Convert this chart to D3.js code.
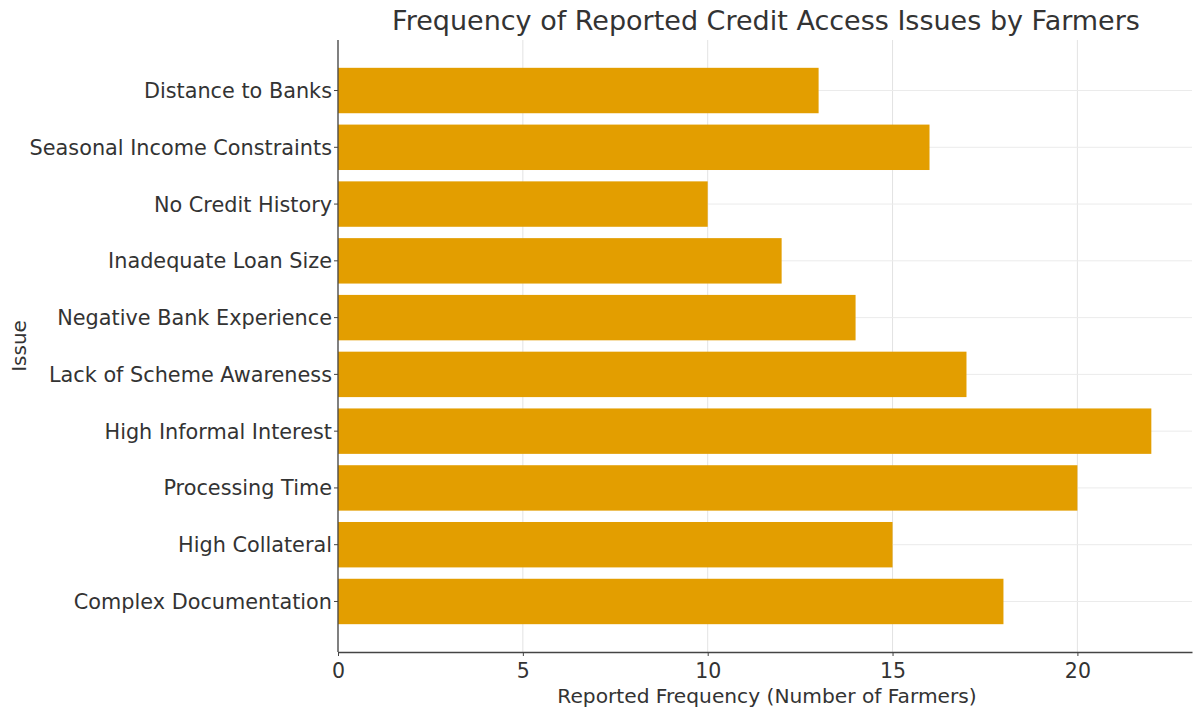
<!DOCTYPE html>
<html>
<head>
<meta charset="utf-8">
<script src="https://cdn.jsdelivr.net/npm/d3@7"></script>
<style>
body{margin:0;background:#fff;}
text{font-family:"DejaVu Sans",sans-serif;}
</style>
</head>
<body>
<script>
// categories top to bottom as drawn
var issues = ["Distance to Banks","Seasonal Income Constraints","No Credit History","Inadequate Loan Size","Negative Bank Experience","Lack of Scheme Awareness","High Informal Interest","Processing Time","High Collateral","Complex Documentation"]
var counts = [13,16,10,12,14,17,22,20,15,18]
var xTicks = [0,5,10,15,20]

var screen = {width:1193, height:711}
var margin = {top:40, right:1, bottom:59, left:338}

var svg = d3.select("body").append("svg")
  .attr("width", screen.width)
  .attr("height", screen.height)

var w = screen.width - margin.left - margin.right
var h = screen.height - margin.top - margin.bottom

var x = d3.scaleLinear().domain([0, d3.max(counts)*1.05]).range([0, w])

// matplotlib-style y margin: 5% of data range on each side
var n = issues.length
var span = (n - 1) + 0.8
var lo = -0.4 - 0.05*span, hi = (n-1) + 0.4 + 0.05*span
var yc = d3.scaleLinear().domain([lo, hi]).range([0, h])
var bh = yc(0.8) - yc(0)

var g = svg.append("g").attr("transform","translate("+margin.left+","+margin.top+")")

// grid
g.selectAll(".vgrid").data(xTicks).enter().append("line")
  .attr("x1", function(d){return x(d)}).attr("x2", function(d){return x(d)})
  .attr("y1", 0).attr("y2", h)
  .attr("stroke","#e3e3e3").attr("stroke-width",1)
g.selectAll(".hgrid").data(issues).enter().append("line")
  .attr("x1", 0).attr("x2", w)
  .attr("y1", function(d,i){return yc(i)}).attr("y2", function(d,i){return yc(i)})
  .attr("stroke","#ebebeb").attr("stroke-width",1)

g.selectAll("rect").data(counts).enter().append("rect")
  .attr("x", 0)
  .attr("y", function(d,i){return yc(i) - bh/2})
  .attr("width", function(d){return x(d)})
  .attr("height", bh)
  .attr("fill", "#e39e00")

// axes
var xAxis = g.append("g").attr("transform","translate(0,"+h+")")
  .call(d3.axisBottom(x).tickValues(xTicks).tickSize(4).tickSizeOuter(0))
xAxis.select(".domain").attr("stroke","#444").attr("stroke-width",1.3)
xAxis.selectAll(".tick line").attr("stroke","#444")
xAxis.selectAll("text").attr("font-size",20.5).attr("fill","#333").attr("y",26).attr("dy",0)

var yAxis = g.append("g")
yAxis.append("line").attr("x1",0).attr("x2",0).attr("y1",0).attr("y2",h)
  .attr("stroke","#444").attr("stroke-width",1.3)
yAxis.selectAll(".ytick").data(issues).enter().append("line")
  .attr("x1",-4).attr("x2",0)
  .attr("y1",function(d,i){return yc(i)}).attr("y2",function(d,i){return yc(i)})
  .attr("stroke","#444")
yAxis.selectAll(".ylab").data(issues).enter().append("text")
  .attr("x",-6)
  .attr("y",function(d,i){return yc(i)})
  .attr("dy","0.36em")
  .attr("text-anchor","end")
  .attr("font-size",20.8)
  .attr("fill","#333")
  .text(function(d){return d})

svg.append("text")
  .attr("x", 766).attr("y", 30)
  .attr("text-anchor","middle")
  .attr("font-size",27)
  .attr("fill","#333")
  .text("Frequency of Reported Credit Access Issues by Farmers")

svg.append("text")
  .attr("x", 767).attr("y", 703)
  .attr("text-anchor","middle")
  .attr("font-size",20.2)
  .attr("fill","#333")
  .text("Reported Frequency (Number of Farmers)")

svg.append("text")
  .attr("transform","translate(26,346) rotate(-90)")
  .attr("text-anchor","middle")
  .attr("font-size",20)
  .attr("fill","#333")
  .text("Issue")
</script>
</body>
</html>
